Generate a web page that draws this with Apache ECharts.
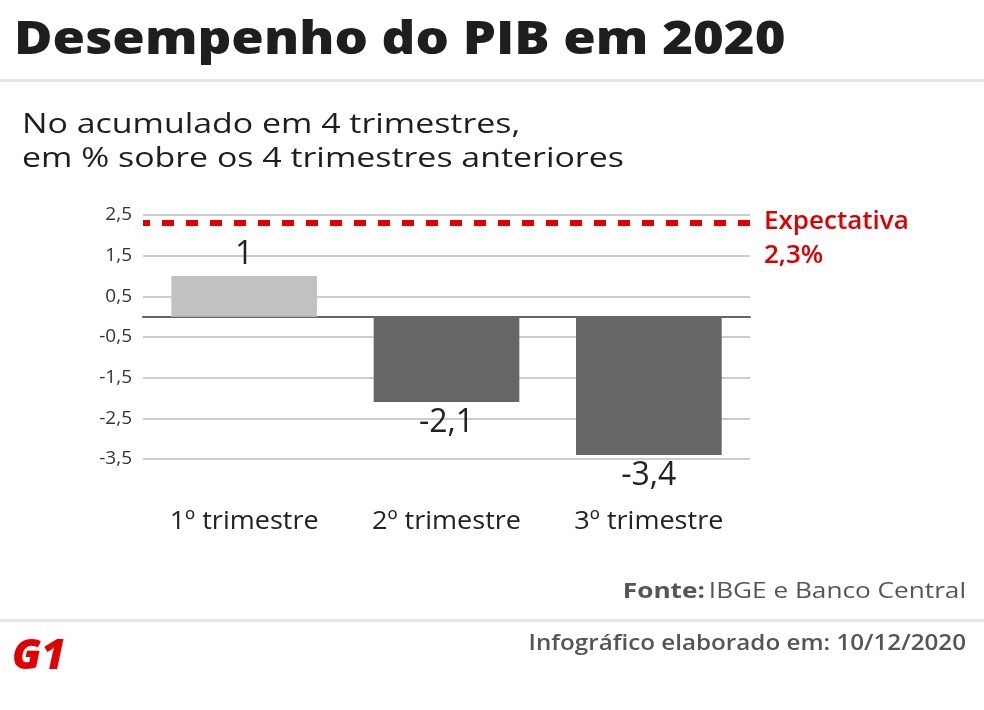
<!DOCTYPE html>
<html><head><meta charset="utf-8">
<script src="https://cdn.jsdelivr.net/npm/echarts@6/dist/echarts.min.js"></script>
<style>html,body{margin:0;padding:0;background:#fff}#c{width:984px;height:710px}</style>
</head><body><div id="c"></div>
<script>
const categories = ['1º trimestre', '2º trimestre', '3º trimestre'];
const values = [1, -2.1, -3.4];
const barColors = ['#c1c1c1', '#666666', '#666666'];
const expectation = 2.3;
const yTicks = { min: -3.5, max: 2.5, interval: 1 };

const fmt = v => String(v).replace('.', ',');
const chart = echarts.init(document.getElementById('c'));
const F = '"Open Sans", "Noto Sans", sans-serif';
chart.setOption({
  backgroundColor: '#fff',
  animation: false,
  textStyle: { fontFamily: F },
  grid: { left: 143, right: 234, top: 215, bottom: 251, containLabel: false },
  xAxis: {
    type: 'category', data: categories,
    axisLine: { onZero: true, lineStyle: { color: '#666', width: 2 } },
    axisTick: { show: false },
    axisLabel: { show: false }
  },
  yAxis: {
    type: 'value', min: yTicks.min, max: yTicks.max, interval: yTicks.interval,
    axisLine: { show: false }, axisTick: { show: false },
    axisLabel: { formatter: fmt, color: '#333', fontSize: 19, margin: 11, fontFamily: F },
    splitLine: { lineStyle: { color: '#cccccc', width: 2 } }
  },
  series: [{
    type: 'bar', barWidth: '72%',
    data: values.map((v, i) => ({
      value: v,
      itemStyle: { color: barColors[i] },
      label: { position: v >= 0 ? 'top' : 'bottom' }
    })),
    label: { show: true, formatter: p => fmt(p.value), fontSize: 32, color: '#222', distance: 5, fontFamily: F },
    markLine: {
      silent: true, symbol: 'none',
      lineStyle: { color: '#e00000', width: 6, type: [12, 12], dashOffset: 5 },
      label: { position: 'end', formatter: 'Expectativa\n' + fmt(expectation) + '%', color: '#dd0000', fontSize: 26, fontWeight: 600, lineHeight: 34, distance: 14, offset: [0, 15], align: 'left', fontFamily: F },
      data: [{ yAxis: expectation }]
    }
  }],
  graphic: [
    { type: 'text', x: 14, y: 18, scaleX: 1.144, style: { text: 'Desempenho do PIB em 2020', fontSize: 46, fontWeight: 800, fill: '#1e1e1e', fontFamily: F } },
    { type: 'rect', shape: { x: 0, y: 79, width: 984, height: 3 }, style: { fill: '#e6e6e6' } },
    { type: 'text', x: 22, y: 108, scaleX: 1.21, style: { text: 'No acumulado em 4 trimestres,\nem % sobre os 4 trimestres anteriores', fontSize: 28, lineHeight: 34, fill: '#1e1e1e', fontFamily: F } },
    ...categories.map((c, i) => ({ type: 'text', id: 'xl' + i, x: 0, y: 0, scaleX: 1.04, style: { text: c, fontSize: 26, fill: '#222', fontFamily: F, align: 'center', verticalAlign: 'middle' } })),
    { type: 'text', x: 966, y: 592, scaleX: 1.19, style: { align: 'right', verticalAlign: 'middle', rich: { b: { fontWeight: 700, fontSize: 22, fill: '#555', fontFamily: F }, n: { fontSize: 22, fill: '#555', fontFamily: F } }, text: '{b|Fonte:} {n|IBGE e Banco Central}' } },
    { type: 'rect', shape: { x: 0, y: 619, width: 984, height: 3 }, style: { fill: '#e6e6e6' } },
    { type: 'text', x: 966, y: 644, scaleX: 1.1, style: { text: 'Infográfico elaborado em: 10/12/2020', align: 'right', verticalAlign: 'middle', fontSize: 22, fontWeight: 600, fill: '#555', fontFamily: F } },
    { type: 'text', x: 12, y: 636, style: { text: 'G1', fontSize: 42, fontWeight: 900, fontStyle: 'italic', fill: '#e00000', fontFamily: F } }
  ]
});
// position category labels via the axis scale
chart.setOption({ graphic: categories.map((c, i) => {
  const p = chart.convertToPixel({ gridIndex: 0 }, [c, 0]);
  return { id: 'xl' + i, x: p[0], y: 522 };
}) });
</script></body></html>
